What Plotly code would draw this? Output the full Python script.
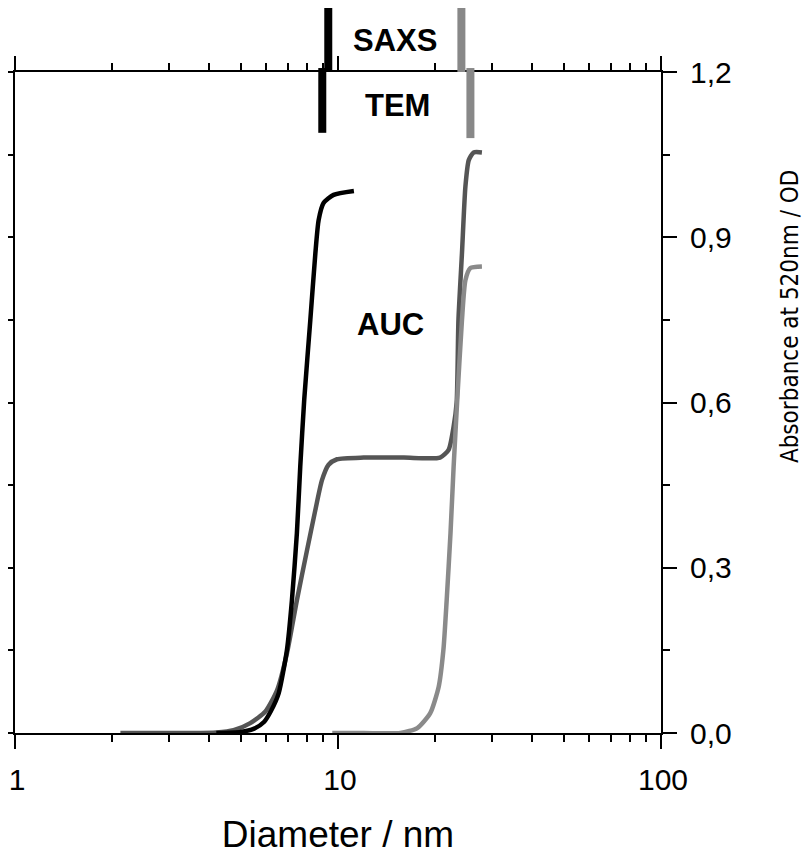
import math
import plotly.graph_objects as go

# ---- data ----
black_d = [4.2, 5.0, 5.5, 5.9, 6.2, 6.55, 6.95, 7.2, 7.46, 7.64, 7.86, 8.21, 8.51, 8.71, 9.02, 9.69, 11.2]
black_a = [0.0, 0.002, 0.008, 0.02, 0.04, 0.072, 0.151, 0.241, 0.363, 0.483, 0.605, 0.750, 0.871, 0.931, 0.962, 0.977, 0.984]

dgray_d = [2.12, 3.5, 4.2, 4.75, 5.35, 5.96, 6.48, 6.95, 7.46, 8.02, 8.51, 8.92, 9.35, 9.93, 12.0, 16.0, 20.7,
           22.0, 22.8, 23.3, 23.6, 24.2, 24.8, 25.4, 26.3, 27.9]
dgray_a = [0.0, 0.0, 0.001, 0.005, 0.018, 0.039, 0.078, 0.145, 0.241, 0.332, 0.405, 0.459, 0.487, 0.497, 0.5, 0.5, 0.5,
           0.514, 0.556, 0.6, 0.750, 0.871, 0.992, 1.040, 1.054, 1.054]

lgray_d = [9.6, 12.0, 15.6, 17.6, 19.3, 20.5, 21.2, 21.7, 22.3, 22.8, 23.4, 24.2, 24.8, 25.7, 27.9]
lgray_a = [0.0, 0.0, 0.0, 0.009, 0.036, 0.084, 0.151, 0.241, 0.363, 0.483, 0.605, 0.750, 0.822, 0.844, 0.847]

saxs_d = [9.33, 24.1]
tem_d = [8.94, 25.7]
marker_colors = ["#000000", "#888888"]

method_labels = ["SAXS", "TEM", "AUC"]
label_d = [15.0, 15.3, 14.5]

x_tickvals = [1, 10, 100]
x_ticktext = ["1", "10", "100"]
x_minor = [2, 3, 4, 5, 6, 7, 8, 9, 20, 30, 40, 50, 60, 70, 80, 90]
y_tickvals = [0.0, 0.3, 0.6, 0.9, 1.2]

fig = go.Figure()
series = [
    (dgray_d, dgray_a, "#555555"),
    (black_d, black_a, "#000000"),
    (lgray_d, lgray_a, "#8a8a8a"),
]
for d, a, c in series:
    fig.add_trace(go.Scatter(x=d, y=a, mode="lines", line=dict(color=c, width=4.5, shape="spline", smoothing=0.6),
                             showlegend=False, hoverinfo="skip"))

# SAXS (above the frame) and TEM (below the top frame) size markers
for d, c in zip(saxs_d, marker_colors):
    fig.add_shape(type="line", xref="x", yref="paper", x0=d, x1=d, y0=1.0, y1=1.103,
                  line=dict(color=c, width=8))
tem_bottom = [0.908, 0.900]
for d, c, yb in zip(tem_d, marker_colors, tem_bottom):
    fig.add_shape(type="line", xref="x", yref="paper", x0=d, x1=d, y0=yb, y1=1.006,
                  line=dict(color=c, width=8))

lab_font = dict(family="Liberation Sans, Arial, sans-serif", size=31, color="#000000")
fig.add_annotation(x=math.log10(label_d[0]), y=1.048, xref="x", yref="paper", xanchor="center", yanchor="middle",
                   text="<b>%s</b>" % method_labels[0], showarrow=False, font=lab_font)
fig.add_annotation(x=math.log10(label_d[1]), y=1.14, xref="x", yref="y", xanchor="center", yanchor="middle",
                   text="<b>%s</b>" % method_labels[1], showarrow=False, font=lab_font)
fig.add_annotation(x=math.log10(label_d[2]), y=0.741, xref="x", yref="y", xanchor="center", yanchor="middle",
                   text="<b>%s</b>" % method_labels[2], showarrow=False, font=lab_font)

# right-hand axis title
fig.add_annotation(x=1.2, y=0.631, xref="paper", yref="paper", xanchor="center", yanchor="middle",
                   text="Absorbance at 520nm / OD", textangle=-90, showarrow=False,
                   font=dict(family="Liberation Sans Narrow, DejaVu Sans Condensed, Liberation Sans, sans-serif",
                             size=24, color="#000000"))

fig.update_xaxes(type="log", range=[0, 2], tickvals=x_tickvals, ticktext=x_ticktext,
                 ticks="outside", ticklen=14, tickwidth=2, tickcolor="#000",
                 showline=True, linecolor="#000", linewidth=2, mirror="ticks",
                 showgrid=False, zeroline=False, ticklabelstandoff=5, ticklabelshift=2,
                 ticklabeloverflow="allow",
                 minor=dict(tickvals=x_minor, ticks="outside", ticklen=7, tickwidth=2, tickcolor="#000", showgrid=False),
                 tickfont=dict(family="Liberation Sans, Arial, sans-serif", size=30, color="#000"),
                 title=dict(text="Diameter / nm", standoff=27,
                            font=dict(family="Liberation Sans, Arial, sans-serif", size=37, color="#000")))
fig.update_yaxes(range=[0, 1.2], side="right", tickvals=y_tickvals, tickformat=".1f",
                 ticks="outside", ticklen=14, tickwidth=2, tickcolor="#000",
                 showline=True, linecolor="#000", linewidth=2, mirror="ticks",
                 showgrid=False, zeroline=False, ticklabelstandoff=7, ticklabeloverflow="allow",
                 minor=dict(dtick=0.15, ticks="outside", ticklen=7, tickwidth=2, tickcolor="#000", showgrid=False),
                 tickfont=dict(family="Liberation Sans, Arial, sans-serif", size=30, color="#000"))

fig.update_layout(width=804, height=847, separators=",.",
                  margin=dict(l=7, r=151, t=64, b=122, autoexpand=False),
                  plot_bgcolor="white", paper_bgcolor="white", showlegend=False)

fig.write_html("out.html")
